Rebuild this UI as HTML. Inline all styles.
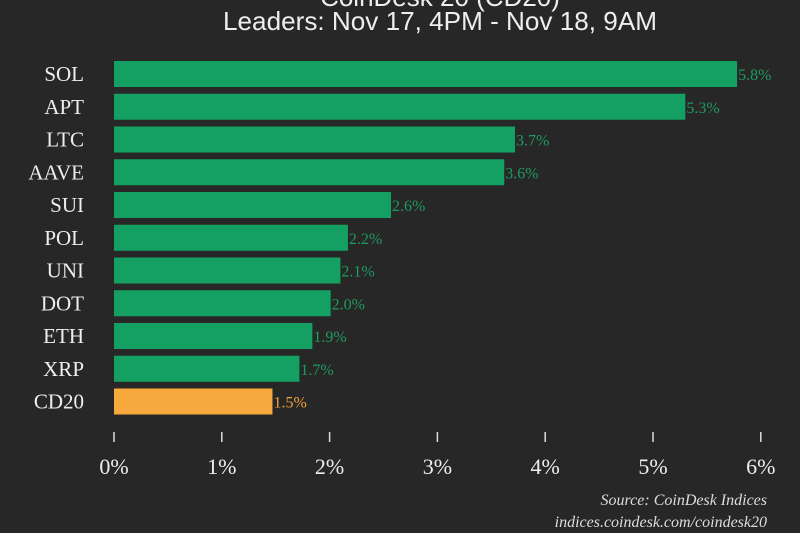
<!DOCTYPE html>
<html><head><meta charset="utf-8"><style>
html,body{margin:0;padding:0;background:#272727;}
svg{display:block;}
</style></head><body>
<svg id="chart" width="800" height="533" xmlns="http://www.w3.org/2000/svg">
<rect width="800" height="533" fill="#272727"/>
<text x="440" y="6" text-anchor="middle" font-family="Liberation Sans, sans-serif" font-size="26" fill="#eee">CoinDesk 20 (CD20)</text>
<text x="440" y="30" text-anchor="middle" font-family="Liberation Sans, sans-serif" font-size="26" textLength="434" lengthAdjust="spacingAndGlyphs" fill="#eee">Leaders: Nov 17, 4PM - Nov 18, 9AM</text>
<g id="bars"></g>
<g id="axis"></g>
<text x="767" y="505" text-anchor="end" font-family="Liberation Serif, serif" font-style="italic" font-size="16" fill="#ddd">Source: CoinDesk Indices</text>
<text x="767" y="527" text-anchor="end" font-family="Liberation Serif, serif" font-style="italic" font-size="16" fill="#ddd">indices.coindesk.com/coindesk20</text>
</svg>
<script>
const categories = ["SOL","APT","LTC","AAVE","SUI","POL","UNI","DOT","ETH","XRP","CD20"];
const values = [5.78,5.3,3.72,3.62,2.57,2.17,2.1,2.01,1.84,1.72,1.47];
const valueLabels = ["5.8%","5.3%","3.7%","3.6%","2.6%","2.2%","2.1%","2.0%","1.9%","1.7%","1.5%"];
const ticks = [0,1,2,3,4,5,6];
const tickLabels = ["0%","1%","2%","3%","4%","5%","6%"];

const NS="http://www.w3.org/2000/svg";
const x0=114, xPerUnit=107.8;
const xScale=v=>x0+v*xPerUnit;
const yTop=61, step=32.75, barH=26;
const yScale=i=>yTop+i*step;
const bars=document.getElementById('bars');
const axis=document.getElementById('axis');
categories.forEach((c,i)=>{
  const isIdx=c==="CD20";
  const color=isIdx?"#f7a93d":"#15a063";
  const y=yScale(i);
  const r=document.createElementNS(NS,'rect');
  r.setAttribute('x',xScale(0));r.setAttribute('y',y);
  r.setAttribute('width',xScale(values[i])-xScale(0));r.setAttribute('height',barH);
  r.setAttribute('fill',color);
  
  
  bars.appendChild(r);
  const t=document.createElementNS(NS,'text');
  t.setAttribute('x',84);t.setAttribute('y',y+barH/2+7);
  t.setAttribute('text-anchor','end');
  t.setAttribute('font-family','Liberation Serif, serif');t.setAttribute('font-size','21');
  t.setAttribute('fill','#eee');t.textContent=c;
  
  
  bars.appendChild(t);
  const v=document.createElementNS(NS,'text');
  v.setAttribute('x',xScale(values[i])+1);v.setAttribute('y',y+barH/2+6);
  v.setAttribute('font-family','Liberation Serif, serif');v.setAttribute('font-size','16');
  v.setAttribute('fill',isIdx?"#f0a23a":"#1f9a60");v.textContent=valueLabels[i];
  
  
  bars.appendChild(v);
});
ticks.forEach((tk,i)=>{
  const x=xScale(tk);
  const l=document.createElementNS(NS,'line');
  l.setAttribute('x1',x);l.setAttribute('x2',x);l.setAttribute('y1',432);l.setAttribute('y2',442);
  l.setAttribute('stroke','#ddd');l.setAttribute('stroke-width','1.5');
  
  
  axis.appendChild(l);
  const t=document.createElementNS(NS,'text');
  t.setAttribute('x',x);t.setAttribute('y',474);t.setAttribute('text-anchor','middle');
  t.setAttribute('font-family','Liberation Serif, serif');t.setAttribute('font-size','22');
  t.setAttribute('fill','#eee');t.textContent=tickLabels[i];
  
  
  axis.appendChild(t);
});
</script>
</body></html>
